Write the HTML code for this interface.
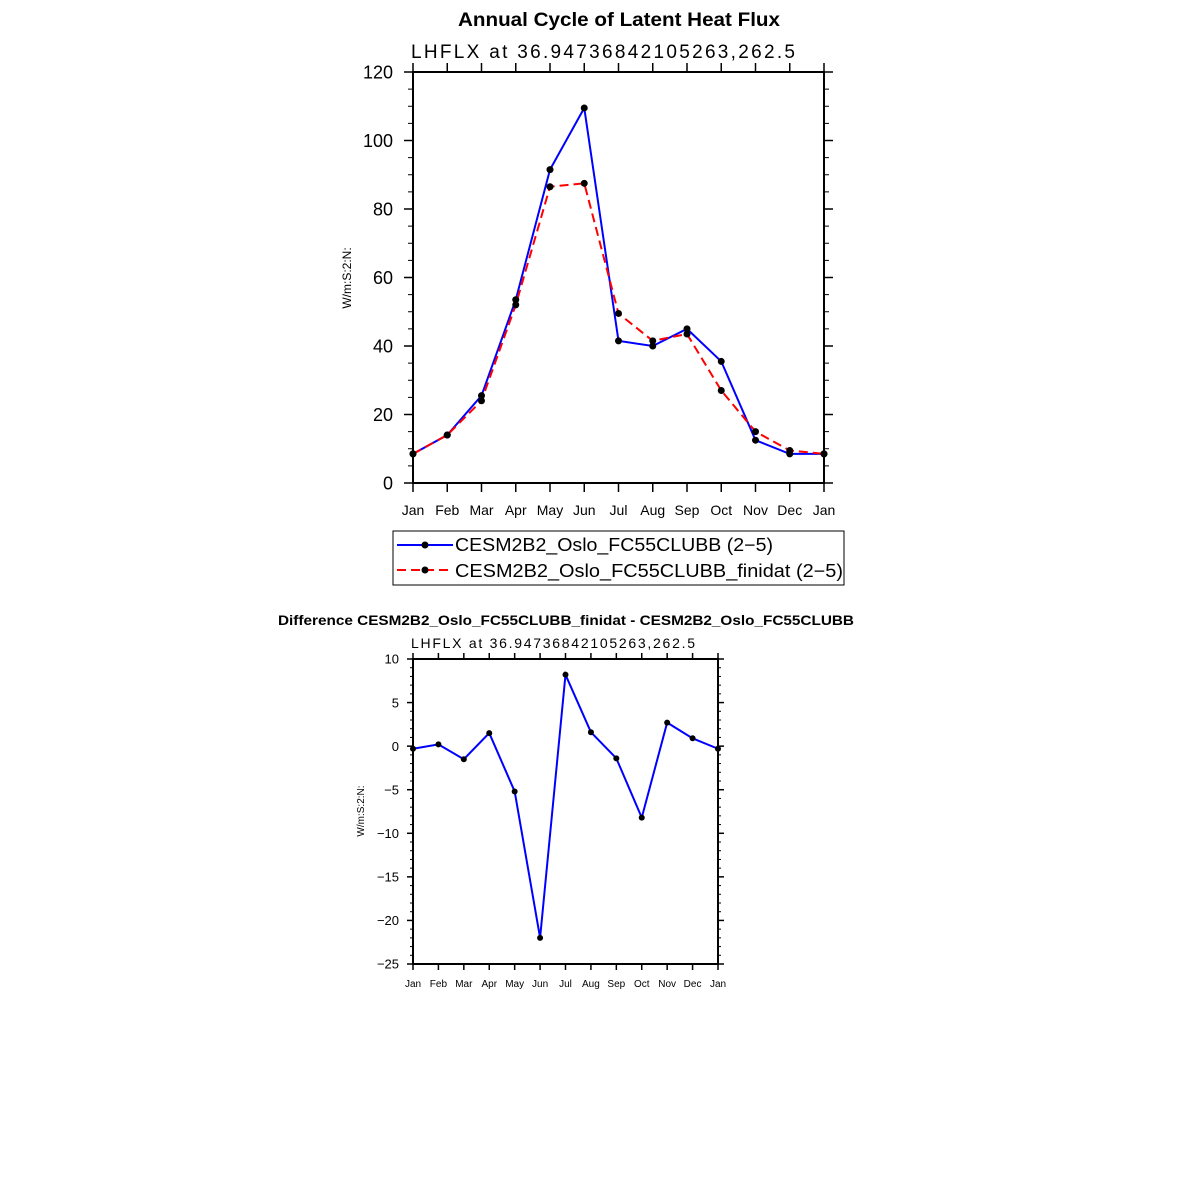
<!DOCTYPE html>
<html><head><meta charset="utf-8"><style>
html,body{margin:0;padding:0;background:#fff;width:1183px;height:1183px;overflow:hidden}
svg text{font-family:"Liberation Sans",sans-serif}
</style></head><body>
<svg id="svg" width="1183" height="1183" xmlns="http://www.w3.org/2000/svg">
<text x="458" y="26" textLength="322" lengthAdjust="spacingAndGlyphs" font-size="19" font-weight="bold">Annual Cycle of Latent Heat Flux</text>
<text x="411" y="58" textLength="384" lengthAdjust="spacing" font-size="19">LHFLX  at  36.94736842105263,262.5</text>
<text transform="translate(351,278) rotate(-90)" text-anchor="middle" font-size="12">W/m:S:2:N:</text>
<text x="278" y="625" textLength="576" lengthAdjust="spacingAndGlyphs" font-size="14" font-weight="bold">Difference CESM2B2_Oslo_FC55CLUBB_finidat - CESM2B2_Oslo_FC55CLUBB</text>
<text x="411" y="648" textLength="284" lengthAdjust="spacing" font-size="14">LHFLX  at  36.94736842105263,262.5</text>
<text transform="translate(364,811) rotate(-90)" text-anchor="middle" font-size="10">W/m:S:2:N:</text>
<g id="legend">
<rect x="393" y="531" width="451" height="54" fill="#fff" stroke="#000" stroke-width="1"/>
<line x1="397" y1="545" x2="453" y2="545" stroke="#0000ff" stroke-width="2"/>
<circle cx="425" cy="545" r="3.5"/>
<text x="455" y="551" textLength="318" lengthAdjust="spacingAndGlyphs" font-size="18">CESM2B2_Oslo_FC55CLUBB (2−5)</text>
<line x1="397" y1="570" x2="453" y2="570" stroke="#ff0000" stroke-width="2" stroke-dasharray="9,5"/>
<circle cx="425" cy="570" r="3.5"/>
<text x="455" y="577" textLength="388" lengthAdjust="spacingAndGlyphs" font-size="18">CESM2B2_Oslo_FC55CLUBB_finidat (2−5)</text>
</g>
</svg>
<script>
const months=["Jan","Feb","Mar","Apr","May","Jun","Jul","Aug","Sep","Oct","Nov","Dec","Jan"];
const blueVals=[8.5,14,25.5,53.5,91.5,109.5,41.5,40,45,35.5,12.5,8.5,8.5];
const redVals=[8.5,14,24,52,86.5,87.5,49.5,41.5,43.5,27,15,9.5,8.5];
const diffVals=[-0.3,0.2,-1.5,1.5,-5.2,-22,8.2,1.6,-1.4,-8.2,2.7,0.9,-0.3];
const topYTicks=[0,20,40,60,80,100,120];
const botYTicks=[-25,-20,-15,-10,-5,0,5,10];
const svg=document.getElementById('svg');
const NS='http://www.w3.org/2000/svg';
function mk(tag,attrs,parent){const e=document.createElementNS(NS,tag);for(const k in attrs)e.setAttribute(k,attrs[k]);(parent||svg).appendChild(e);return e;}
function panel(o){
  const g=mk('g',{});
  
  
  const sx=i=>o.x0+(o.x1-o.x0)*i/12;
  const sy=v=>o.y0+(o.y1-o.y0)*(v-o.vmin)/(o.vmax-o.vmin);
  const fr=mk('rect',{x:o.x0,y:o.y1,width:o.x1-o.x0,height:o.y0-o.y1,fill:'none',stroke:'#000','stroke-width':2},g);
  
  
  months.forEach((m,i)=>{
    const x=sx(i);
    mk('line',{x1:x,y1:o.y0,x2:x,y2:o.y0+o.maj,stroke:'#000','stroke-width':1.5},g);
    mk('line',{x1:x,y1:o.y1,x2:x,y2:o.y1-o.maj,stroke:'#000','stroke-width':1.5},g);
    const t=mk('text',{x:x,y:o.y0+o.maj+o.xoff,'text-anchor':'middle','font-size':o.fs},g);
    t.textContent=m;
    
    
  });
  const step=o.yt[1]-o.yt[0];
  o.yt.forEach((v,k)=>{
    const y=sy(v);
    mk('line',{x1:o.x0,y1:y,x2:o.x0-o.maj,y2:y,stroke:'#000','stroke-width':1.5},g);
    mk('line',{x1:o.x1,y1:y,x2:o.x1+o.maj,y2:y,stroke:'#000','stroke-width':1.5},g);
    const t=mk('text',{x:o.x0-o.ygap,y:y+o.yfs*0.36,'text-anchor':'end','font-size':o.yfs},g);
    t.textContent=(v<0?'−'+Math.abs(v):v);
    
    
    if(k<o.yt.length-1){for(let j=1;j<o.nmin;j++){const yy=sy(v+step*j/o.nmin);
      mk('line',{x1:o.x0,y1:yy,x2:o.x0-o.min,y2:yy,stroke:'#000','stroke-width':1},g);
      mk('line',{x1:o.x1,y1:yy,x2:o.x1+o.min,y2:yy,stroke:'#000','stroke-width':1},g);}}
  });
  o.series.forEach(s=>{
    const p=mk('polyline',{points:s.vals.map((v,i)=>sx(i)+','+sy(v)).join(' '),fill:'none',stroke:s.color,'stroke-width':2,'stroke-dasharray':s.dash||'none'},g);
    
    
  });
  o.series.forEach(s=>{s.vals.forEach((v,i)=>{
    const c=mk('circle',{cx:sx(i),cy:sy(v),r:o.r,fill:'#000'},g);
    
    
  });});
}
panel({name:'top-panel',x0:413,x1:824,y0:483,y1:72,vmin:0,vmax:120,yt:topYTicks,nmin:4,maj:9,min:5,fs:14,xoff:23,yfs:18,ygap:20,r:3.5,
  series:[{name:'blue-series',vals:blueVals,color:'#0000ff'},{name:'red-series',vals:redVals,color:'#ff0000',dash:'9,5'}]});
panel({name:'bottom-panel',x0:413,x1:718,y0:964,y1:659,vmin:-25,vmax:10,yt:botYTicks,nmin:5,maj:6,min:3,fs:10,xoff:17,yfs:13,ygap:14,r:3,
  series:[{name:'diff-series',vals:diffVals,color:'#0000ff'}]});
</script>
</body></html>
